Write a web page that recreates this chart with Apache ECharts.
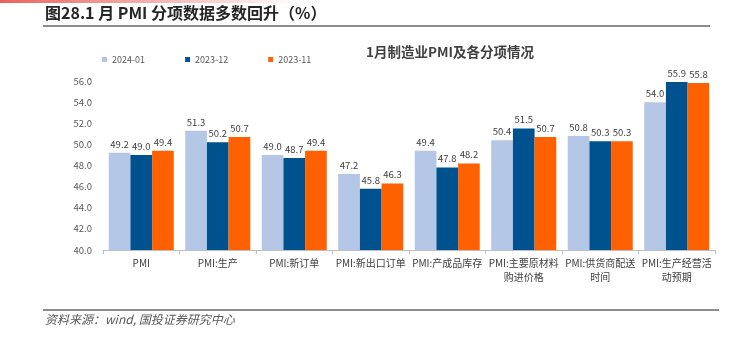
<!DOCTYPE html>
<html>
<head>
<meta charset="utf-8">
<script src="https://cdn.jsdelivr.net/npm/echarts@6/dist/echarts.min.js"></script>
<style>
  html, body { margin: 0; padding: 0; background: #fff; }
  #chart { width: 736px; height: 340px; }
</style>
</head>
<body>
<div id="chart"></div>
<script>
// PMI sub-indices, three months
const categories = [
  'PMI', 'PMI:生产', 'PMI:新订单', 'PMI:新出口订单', 'PMI:产成品库存',
  'PMI:主要原材料\n购进价格', 'PMI:供货商配送\n时间', 'PMI:生产经营活\n动预期'
];
const seriesNames = ['2024-01', '2023-12', '2023-11'];
const jan2024 = [49.2, 51.3, 49.0, 47.2, 49.4, 50.4, 50.8, 54.0];
const dec2023 = [49.0, 50.2, 48.7, 45.8, 47.8, 51.5, 50.3, 55.9];
const nov2023 = [49.4, 50.7, 49.4, 46.3, 48.2, 50.7, 50.3, 55.8];
const yTicks = [40, 42, 44, 46, 48, 50, 52, 54, 56];

const colors = ['#b4c7e7', '#00528f', '#ff6000'];
const font = '"Noto Sans CJK SC", "Liberation Sans", sans-serif';

const chart = echarts.init(document.getElementById('chart'), null, { renderer: 'canvas' });

function barSeries(name, data, color) {
  return {
    name: name,
    type: 'bar',
    data: data,
    barGap: '0%',
    barCategoryGap: '15%',
    itemStyle: { color: color },
    label: {
      show: true,
      position: 'top',
      distance: 4,
      color: '#404040',
      fontSize: 9.5,
      fontFamily: font,
      formatter: p => p.value.toFixed(1)
    }
  };
}

chart.setOption({
  animation: false,
  backgroundColor: '#fff',
  title: {
    text: '1月制造业PMI及各分项情况',
    left: 445,
    top: 40,
    textAlign: 'center',
    textStyle: { fontSize: 13.5, fontWeight: 'bold', color: '#404040', fontFamily: font }
  },
  legend: {
    data: seriesNames,
    left: 97,
    top: 50,
    itemWidth: 5,
    itemHeight: 5,
    itemGap: 40,
    icon: 'rect',
    textStyle: { fontSize: 9, color: '#595959', fontFamily: font }
  },
  grid: { left: 103, right: 21, top: 81, bottom: 90 },
  xAxis: {
    type: 'category',
    data: categories,
    axisLine: { show: true, lineStyle: { color: '#bfbfbf', width: 1 } },
    axisTick: { show: true, length: 4, lineStyle: { color: '#bfbfbf' } },
    axisLabel: {
      interval: 0,
      color: '#404040',
      fontSize: 10,
      lineHeight: 14,
      margin: 6,
      fontFamily: font
    }
  },
  yAxis: {
    type: 'value',
    min: yTicks[0],
    max: yTicks[yTicks.length - 1],
    interval: 2,
    axisLine: { show: false },
    axisTick: { show: false },
    splitLine: { show: false },
    axisLabel: {
      color: '#595959',
      fontSize: 9.5,
      margin: 11,
      fontFamily: font,
      formatter: v => v.toFixed(1)
    }
  },
  series: [
    barSeries(seriesNames[0], jan2024, colors[0]),
    barSeries(seriesNames[1], dec2023, colors[1]),
    barSeries(seriesNames[2], nov2023, colors[2])
  ],
  graphic: [
    {
      type: 'rect',
      shape: { x: 0, y: 0, width: 300, height: 3 },
      style: {
        fill: new echarts.graphic.LinearGradient(0, 0, 1, 0, [
          { offset: 0, color: 'rgba(232,90,80,0.95)' },
          { offset: 1, color: 'rgba(232,90,80,0)' }
        ])
      }
    },
    {
      type: 'text',
      left: 45,
      top: 5,
      style: {
        text: '图28.1 月 PMI 分项数据多数回升（%）',
        fontSize: 16,
        fontWeight: 'bold',
        fill: '#262626',
        fontFamily: font
      }
    },
    {
      type: 'rect',
      shape: { x: 43, y: 25, width: 667, height: 2 },
      style: { fill: '#8c8c8c' }
    },
    {
      type: 'rect',
      shape: { x: 43, y: 309, width: 676, height: 2 },
      style: { fill: '#8c8c8c' }
    },
    {
      type: 'text',
      left: 45,
      top: 313,
      style: {
        text: '资料来源：wind, 国投证券研究中心',
        fontSize: 12,
        fontStyle: 'italic',
        fill: '#595959',
        fontFamily: font
      }
    }
  ]
});
</script>
</body>
</html>
